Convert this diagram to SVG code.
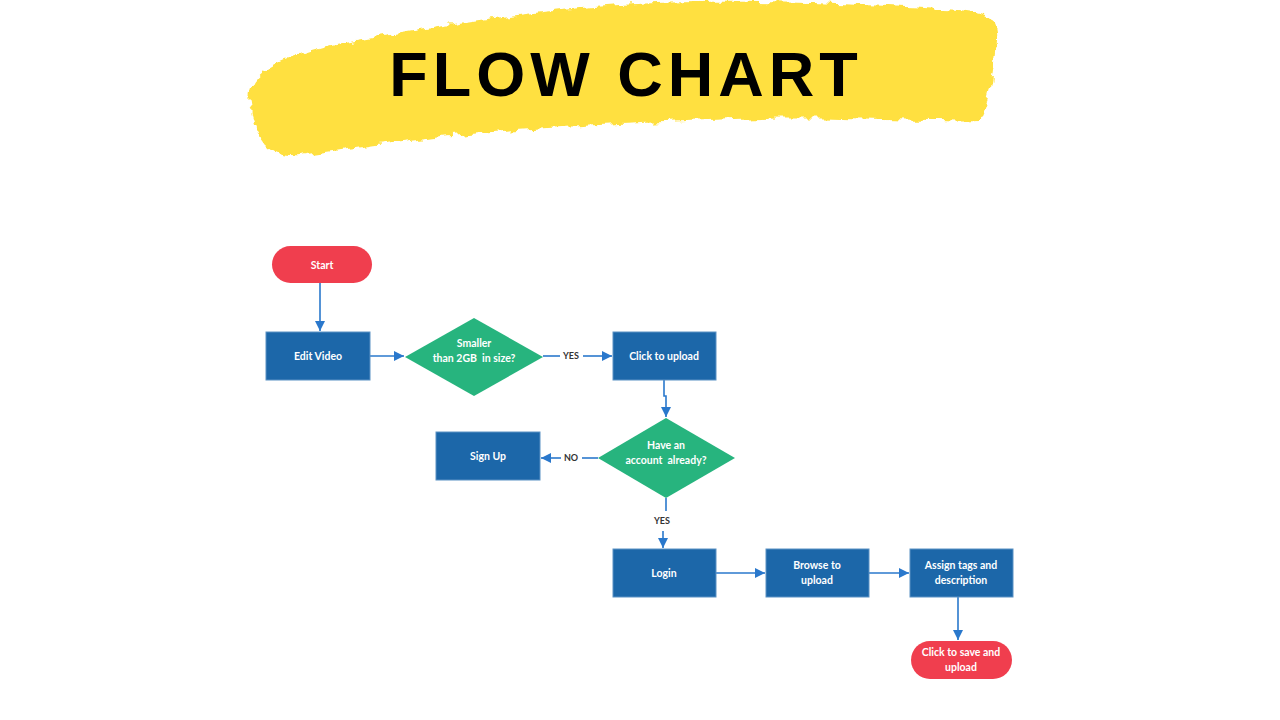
<svg xmlns="http://www.w3.org/2000/svg" width="1280" height="720" viewBox="0 0 1280 720">
<defs>
<marker id="ah" viewBox="0 0 10 10" refX="10" refY="5" markerWidth="10" markerHeight="10" markerUnits="userSpaceOnUse" orient="auto">
<path d="M0,0 L10,5 L0,10 z" fill="#2a78cc"/>
</marker>
<filter id="rough" x="-5%" y="-10%" width="110%" height="120%">
<feTurbulence type="fractalNoise" baseFrequency="0.08" numOctaves="3" seed="4" result="n"/>
<feDisplacementMap in="SourceGraphic" in2="n" scale="10" xChannelSelector="R" yChannelSelector="G"/>
</filter>
</defs>
<style>
.proc{fill:#1c67a9;stroke:#5b92c4;stroke-width:1}
.dec{fill:#27b47e}
.term{fill:#f03e4e}
.lbl{font-family:Lato,"Open Sans","Liberation Sans",sans-serif;font-size:10.5px;font-weight:700;fill:#ffffff;text-anchor:middle}
.edge{font-family:Lato,"Open Sans","Liberation Sans",sans-serif;font-size:9px;font-weight:700;fill:#333333;text-anchor:middle}
.con{fill:none;stroke:#2a78cc;stroke-width:1.6}
.title{font-family:"Liberation Sans","DejaVu Sans",sans-serif;font-size:63px;font-weight:700;fill:#000000;text-anchor:middle;letter-spacing:5px}
</style>
<rect width="1280" height="720" fill="#ffffff"/>
<g id="banner">
<path filter="url(#rough)" fill="#ffe03f" d="M250,92 C255,70 280,58 330,45 C420,28 520,12 620,5 C720,-2 860,4 960,10 C985,12 998,18 996,40 C994,70 990,100 980,120 C930,122 850,116 760,118 C660,122 560,126 480,133 C400,141 340,150 300,156 C275,158 262,145 256,128 C252,115 248,102 250,92 Z"/>
<text class="title" x="626" y="96">FLOW CHART</text>
</g>
<g id="connectors">
<path class="con" d="M320,283 V331" marker-end="url(#ah)"/>
<path class="con" d="M370,356 H404" marker-end="url(#ah)"/>
<path class="con" d="M543,356 H560"/>
<path class="con" d="M583,356 H612" marker-end="url(#ah)"/>
<path class="con" d="M664,380 V396 H666 V417" marker-end="url(#ah)"/>
<path class="con" d="M598,458 H582"/>
<path class="con" d="M561,458 H541" marker-end="url(#ah)"/>
<path class="con" d="M666,498 V511"/>
<path class="con" d="M663,531 V548" marker-end="url(#ah)"/>
<path class="con" d="M716,573 H765" marker-end="url(#ah)"/>
<path class="con" d="M869,573 H909" marker-end="url(#ah)"/>
<path class="con" d="M958,597 V640" marker-end="url(#ah)"/>
<text class="edge" x="571" y="359">YES</text>
<text class="edge" x="571" y="461">NO</text>
<text class="edge" x="662" y="524">YES</text>
</g>
<g id="start">
<rect class="term" x="272" y="246" width="100" height="37" rx="18.5"/>
<text class="lbl" x="322" y="269">Start</text>
</g>
<g id="edit-video">
<rect class="proc" x="266" y="332" width="104" height="48"/>
<text class="lbl" x="318" y="360">Edit Video</text>
</g>
<g id="smaller">
<polygon class="dec" points="474,318 543,357 474,396 405,357"/>
<text class="lbl" x="474" y="347">Smaller</text>
<text class="lbl" x="474" y="362">than 2GB&#160; in size?</text>
</g>
<g id="click-upload">
<rect class="proc" x="613" y="332" width="103" height="48"/>
<text class="lbl" x="664" y="360">Click to upload</text>
</g>
<g id="have-account">
<polygon class="dec" points="666,418 735,458 666,498 598,458"/>
<text class="lbl" x="666" y="449">Have an</text>
<text class="lbl" x="666" y="464">account&#160; already?</text>
</g>
<g id="sign-up">
<rect class="proc" x="436" y="432" width="104" height="48"/>
<text class="lbl" x="488" y="460">Sign Up</text>
</g>
<g id="login">
<rect class="proc" x="613" y="549" width="103" height="48"/>
<text class="lbl" x="664" y="577">Login</text>
</g>
<g id="browse">
<rect class="proc" x="766" y="549" width="103" height="48"/>
<text class="lbl" x="817" y="569">Browse to</text>
<text class="lbl" x="817" y="584">upload</text>
</g>
<g id="assign">
<rect class="proc" x="910" y="549" width="103" height="48"/>
<text class="lbl" x="961" y="569">Assign tags and</text>
<text class="lbl" x="961" y="584">description</text>
</g>
<g id="end">
<rect class="term" x="911" y="641" width="101" height="38" rx="19"/>
<text class="lbl" x="961" y="656">Click to save and</text>
<text class="lbl" x="961" y="671">upload</text>
</g>
</svg>
